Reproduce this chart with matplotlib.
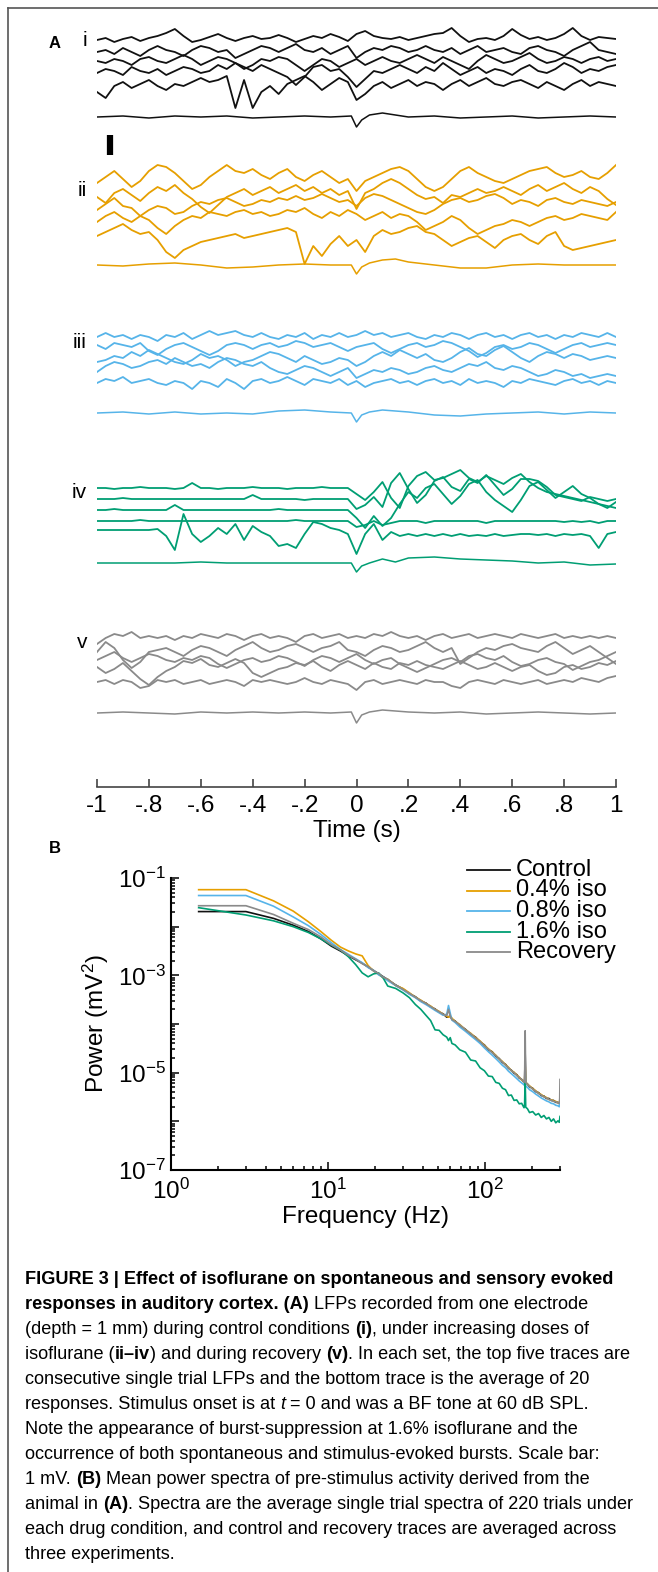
import numpy as np
import matplotlib
matplotlib.use('Agg')
import matplotlib.pyplot as plt
from matplotlib.lines import Line2D
from matplotlib.ticker import LogLocator, FixedLocator, FuncFormatter, NullFormatter

plt.rcParams['font.family'] = ['Liberation Sans', 'DejaVu Sans']
plt.rcParams['mathtext.fontset'] = 'custom'
plt.rcParams['mathtext.rm'] = 'Liberation Sans'
plt.rcParams['mathtext.it'] = 'Liberation Sans:italic'
plt.rcParams['mathtext.bf'] = 'Liberation Sans:bold'

# ---------------- data: panel A (LFP traces, mV) ----------------
# single trials sampled every 1/30 s from -1 to 1 s
t_trial = np.linspace(-1, 1, 61)
# trial averages, denser around stimulus onset
t_avg = [-1.0, -0.9, -0.8, -0.7, -0.6, -0.5, -0.4, -0.3, -0.2, -0.1, -0.02, 0.0,
         0.02, 0.05, 0.1, 0.15, 0.2, 0.3, 0.4, 0.5, 0.6, 0.7, 0.8, 0.9, 1.0]

# i - control
ctl_1 = [0.0, 0.1, -0.1, 0.05, 0.15, -0.05, 0.1, 0.2, 0.35, 0.55,
         0.2, -0.1, 0.0, 0.15, 0.3, 0.1, -0.05, 0.1, 0.2, 0.05,
         0.1, 0.25, 0.1, -0.1, 0.05, 0.2, 0.1, 0.3, 0.15, -0.05,
         0.3, 0.45, 0.2, 0.1, 0.05, 0.15, 0.0, 0.1, 0.2, 0.3,
         0.35, 0.6, 0.2, -0.1, 0.05, 0.1, 0.0, 0.2, 0.55, 0.25,
         0.05, 0.15, 0.0, 0.1, 0.3, 0.6, 0.2, 0.0, 0.15, 0.1, 0.05]
ctl_2 = [0.0, 0.1, -0.1, 0.2, 0.0, -0.2, 0.1, 0.3, 0.1, 0.0,
         -0.2, 0.1, 0.3, 0.2, 0.0, 0.1, -0.3, -0.1, 0.1, 0.3,
         0.2, 0.0, 0.2, 0.4, 0.1, 0.0, 0.2, -0.1, 0.1, 0.3,
         -0.3, 0.0, 0.2, 0.1, 0.3, 0.2, 0.0, 0.1, 0.3, 0.1,
         0.0, 0.2, -0.1, 0.1, 0.3, 0.0, 0.1, 0.2, 0.0, -0.1,
         0.2, 0.3, 0.1, 0.0, -0.2, 0.1, 0.3, 0.5, 0.1, 0.0, -0.1]
ctl_3 = [0.0, -0.1, 0.1, 0.0, -0.2, 0.1, 0.2, 0.0, -0.1, 0.1,
         0.3, 0.1, -0.2, 0.0, 0.2, 0.1, -0.1, -0.4, -0.2, 0.1,
         0.0, 0.2, 0.1, -0.2, -0.5, -0.2, 0.1, 0.0, -0.3, -0.1,
         0.1, -0.2, 0.0, 0.2, 0.0, -0.1, 0.1, 0.3, 0.1, -0.1,
         0.2, 0.0, -0.2, -0.4, 0.0, 0.3, 0.1, -0.1, 0.0, 0.2,
         0.4, 0.1, -0.1, 0.0, 0.2, 0.1, -0.1, 0.1, 0.2, 0.0, 0.1]
ctl_4 = [0.0, 0.2, 0.1, -0.1, 0.3, 0.1, 0.0, 0.2, -0.1, 0.1,
         0.3, 0.2, 0.0, 0.1, 0.4, 0.2, 0.5, 0.3, 0.1, 0.4,
         0.2, 0.0, -0.2, -0.6, -0.2, 0.3, 0.4, 0.1, 0.2, -0.2,
         -0.7, -0.3, 0.1, 0.0, 0.2, 0.4, 0.2, 0.0, 0.3, 0.1,
         0.5, 0.2, -0.1, 0.1, 0.3, 0.0, 0.2, 0.1, -0.1, 0.2,
         0.4, 0.1, 0.0, 0.2, 0.5, 0.3, 0.0, 0.2, 0.1, 0.3, 0.4]
ctl_5 = [-0.3, -0.6, 0.0, 0.2, -0.1, 0.1, 0.3, 0.0, -0.2, 0.1,
         0.0, 0.2, 0.4, 0.2, 0.3, 0.5, -1.1, 0.3, -1.1, -0.3,
         0.0, -0.4, 0.1, 0.3, 0.5, 0.2, -0.2, 0.1, 0.4, 0.2,
         -0.7, -0.4, 0.0, 0.2, -0.1, 0.1, 0.3, 0.0, 0.2, 0.1,
         -0.2, 0.1, 0.3, 0.0, 0.2, 0.4, 0.1, 0.0, 0.2, 0.3,
         0.1, -0.1, 0.2, 0.0, -0.2, 0.1, 0.3, 0.0, 0.2, 0.1, 0.0]
ctl_avg = [0.0, 0.05, -0.05, 0.05, 0.0, 0.05, -0.05, 0.0, 0.05, 0.0, 0.05, -0.5,
           -0.15, 0.1, 0.2, 0.1, 0.0, 0.05, -0.05, 0.0, 0.05, -0.05, 0.0, 0.05, 0.0]

# ii - 0.4% isoflurane
iso04_1 = [0.0, 0.3, 0.6, 0.2, -0.2, 0.1, 0.6, 0.9, 0.8, 0.5,
           0.1, -0.3, -0.1, 0.3, 0.6, 0.9, 0.6, 0.5, 0.7, 0.4,
           0.2, 0.5, 0.7, 0.3, 0.1, 0.4, 0.6, 0.3, 0.0, 0.2,
           -0.4, 0.1, 0.3, 0.5, 0.7, 0.8, 0.6, 0.2, -0.2, -0.4,
           -0.2, 0.2, 0.6, 0.8, 0.5, 0.3, 0.1, 0.0, 0.2, 0.4,
           0.6, 0.7, 0.8, 0.5, 0.3, 0.4, 0.6, 0.3, 0.2, 0.5, 0.9]
iso04_2 = [0.0, -0.3, 0.2, 0.4, 0.1, -0.2, 0.2, 0.5, 0.3, 0.6,
           0.2, -0.1, -0.5, -0.8, -0.4, 0.0, 0.2, 0.4, 0.1, 0.3,
           0.5, 0.2, 0.4, 0.6, 0.3, 0.5, 0.2, 0.4, 0.1, 0.3,
           -0.6, 0.2, 0.4, 0.7, 0.9, 0.7, 0.4, 0.1, -0.1, 0.0,
           -0.3, 0.1, 0.0, 0.2, 0.4, 0.2, 0.3, 0.5, 0.3, 0.1,
           0.4, 0.6, 0.3, 0.5, 0.7, 0.4, 0.2, 0.5, 0.3, -0.1, -0.4]
iso04_3 = [0.0, 0.3, 0.6, 0.2, 0.1, -0.3, 0.0, 0.2, 0.1, -0.2,
           -0.1, 0.2, 0.4, 0.3, 0.5, 0.6, 0.4, 0.2, 0.3, 0.5,
           0.4, 0.6, 0.5, 0.7, 0.5, 0.6, 0.8, 0.6, 0.4, 0.5,
           0.2, 0.6, 0.8, 0.7, 0.5, 0.3, 0.1, -0.1, -0.2, 0.0,
           0.3, 0.5, 0.6, 0.4, 0.5, 0.7, 0.8, 0.6, 0.3, 0.5,
           0.4, 0.2, 0.5, 0.6, 0.4, 0.3, 0.5, 0.4, 0.3, 0.2, 0.4]
iso04_4 = [0.0, 0.3, 0.5, 0.2, 0.0, 0.3, 0.1, -0.3, -0.6, -0.2,
           0.1, 0.3, 0.2, 0.5, 0.4, 0.3, 0.5, 0.6, 0.4, 0.5,
           0.3, 0.4, 0.6, 0.5, 0.7, 0.4, 0.2, 0.5, 0.3, 0.6,
           0.4, 0.1, 0.3, 0.5, 0.2, 0.4, 0.3, 0.0, -0.4, -0.2,
           0.0, 0.3, 0.1, -0.3, -0.6, -0.4, -0.2, -0.1, 0.1, 0.0,
           -0.2, 0.0, 0.2, 0.3, 0.1, 0.2, 0.4, 0.3, 0.2, 0.1, 0.5]
iso04_5 = [0.0, 0.2, 0.4, 0.6, 0.3, 0.1, 0.2, -0.2, -0.8, -1.1,
           -0.7, -0.5, -0.3, -0.2, -0.1, 0.0, 0.1, -0.1, 0.0, 0.1,
           0.2, 0.3, 0.4, 0.2, -1.4, -0.5, -1.0, -0.4, 0.0, -0.5,
           -0.2, -0.8, 0.0, 0.3, 0.1, 0.2, 0.4, 0.5, 0.2, 0.1,
           -0.2, -0.5, -0.3, -0.1, 0.0, -0.3, -0.6, -0.2, 0.0, 0.1,
           -0.2, -0.4, 0.0, 0.2, -0.5, -0.7, -0.6, -0.5, -0.4, -0.3, -0.2]
iso04_avg = [0.0, -0.05, 0.05, 0.1, 0.0, -0.15, -0.1, 0.0, 0.05, 0.0, 0.0, -0.45,
             -0.1, 0.1, 0.25, 0.3, 0.15, 0.0, -0.15, -0.15, 0.0, 0.05, 0.0, 0.0, 0.0]

# iii - 0.8% isoflurane
iso08_1 = [0.0, 0.2, 0.0, 0.1, -0.1, 0.1, 0.0, -0.2, 0.1, 0.0,
           0.2, -0.1, 0.1, 0.3, 0.1, 0.2, 0.3, 0.1, 0.0, 0.2,
           0.0, -0.1, 0.1, 0.0, 0.2, -0.1, 0.1, 0.0, 0.2, 0.0,
           0.1, 0.3, 0.1, 0.2, 0.0, 0.1, 0.2, 0.0, -0.1, 0.1,
           0.0, 0.2, 0.1, -0.1, 0.1, 0.2, 0.0, 0.1, -0.1, 0.1,
           0.2, 0.0, 0.1, -0.1, 0.1, 0.0, 0.2, 0.1, 0.0, 0.2, 0.0]
iso08_2 = [0.0, -0.2, 0.1, 0.0, -0.1, 0.1, -0.3, -0.5, -0.2, 0.0,
           0.1, -0.1, -0.3, -0.5, -0.3, 0.0, 0.1, 0.0, -0.2, 0.0,
           0.1, -0.1, 0.0, 0.2, 0.1, -0.1, 0.0, 0.1, -0.1, -0.3,
           -0.1, 0.0, 0.1, -0.2, -0.4, -0.2, 0.0, 0.1, -0.1, 0.0,
           0.2, 0.1, -0.1, -0.3, -0.6, -0.4, -0.1, 0.0, -0.2, -0.1,
           0.1, 0.0, -0.2, -0.4, -0.2, 0.0, 0.1, -0.1, 0.0, 0.1, 0.0]
iso08_3 = [0.0, 0.1, 0.3, 0.2, 0.5, 0.3, 0.6, 0.4, 0.2, 0.0,
           -0.1, 0.1, 0.4, 0.2, 0.3, 0.1, -0.2, 0.0, 0.1, 0.3,
           0.5, 0.4, 0.2, 0.0, 0.3, 0.1, -0.1, 0.0, 0.2, 0.1,
           -0.2, 0.0, 0.3, 0.5, 0.3, 0.6, 0.4, 0.2, 0.4, 0.1,
           0.0, 0.2, 0.5, 0.7, 0.4, 0.3, 0.6, 0.8, 0.5, 0.2,
           0.0, 0.3, 0.5, 0.4, 0.2, 0.4, 0.3, 0.1, 0.2, 0.3, 0.2]
iso08_4 = [0.0, 0.3, 0.5, 0.4, 0.2, 0.3, 0.5, 0.6, 0.4, 0.7,
           0.5, 0.3, 0.4, 0.2, 0.5, 0.7, 0.6, 0.4, 0.3, 0.5,
           0.2, 0.0, -0.1, 0.1, 0.3, 0.2, 0.0, -0.2, 0.0, 0.2,
           -0.3, -0.1, 0.1, 0.0, 0.2, 0.1, -0.1, 0.0, 0.2, 0.3,
           0.1, 0.0, 0.2, 0.4, 0.3, 0.5, 0.2, 0.1, 0.3, 0.2,
           0.0, -0.2, -0.1, 0.1, 0.0, -0.2, -0.1, -0.3, -0.2, -0.1, -0.2]
iso08_5 = [0.0, 0.2, 0.1, 0.3, 0.0, 0.1, 0.2, 0.0, -0.1, 0.1,
           0.0, -0.3, 0.1, 0.0, -0.2, 0.2, 0.0, -0.3, 0.1, 0.2,
           0.0, 0.1, 0.3, 0.1, -0.1, 0.2, 0.1, 0.0, 0.2, -0.1,
           0.1, -0.2, 0.0, 0.1, 0.2, 0.0, 0.1, -0.1, 0.1, 0.2,
           0.0, 0.1, -0.1, 0.2, 0.0, 0.1, 0.0, -0.2, 0.1, 0.0,
           0.2, 0.1, 0.0, -0.1, 0.1, 0.2, 0.0, 0.1, -0.1, 0.1, 0.0]
iso08_avg = [0.0, 0.05, -0.05, 0.05, -0.05, 0.0, -0.05, 0.1, 0.15, 0.05, 0.0, -0.45,
             -0.1, 0.05, 0.15, 0.1, 0.05, -0.1, -0.15, -0.05, 0.0, 0.05, -0.05, 0.05, 0.0]

# iv - 1.6% isoflurane (burst-suppression)
iso16_1 = [0.0, 0.0, -0.05, 0.0, 0.0, 0.05, 0.0, 0.0, 0.0, -0.05,
           0.0, 0.25, 0.0, 0.0, -0.05, 0.0, 0.0, 0.0, 0.05, 0.0,
           0.0, 0.0, -0.05, 0.0, 0.0, 0.0, 0.05, 0.0, 0.0, 0.0,
           -0.3, -0.6, -0.2, 0.3, -0.5, -1.0, 0.1, 0.6, 0.8, 0.4,
           0.5, 0.7, 0.9, 0.5, 0.3, 0.6, 0.4, 0.2, 0.5, 0.7,
           0.3, 0.0, -0.2, -0.3, -0.4, -0.5, -0.6, -0.7, -0.8, -0.9, -1.0]
iso16_2 = [0.0, 0.0, 0.0, 0.05, 0.0, 0.0, 0.0, 0.0, 0.0, 0.0,
           0.0, 0.0, 0.0, 0.0, 0.0, 0.0, 0.0, 0.0, 0.2, 0.0,
           0.0, 0.0, 0.0, 0.0, -0.05, 0.0, 0.0, 0.0, 0.0, 0.0,
           -0.5, -0.3, 0.1, -0.4, 0.8, 1.3, 0.5, -0.2, 0.2, 0.9,
           1.1, 0.6, 0.4, 1.0, 0.8, 1.2, 0.7, 0.2, 0.5, 1.0,
           1.0, 0.9, 0.6, 0.2, 0.1, 0.0, -0.1, 0.1, 0.0, -0.1, 0.0]
iso16_3 = [0.0, 0.0, 0.05, 0.0, 0.0, 0.0, 0.0, 0.0, 0.0, 0.25,
           0.0, 0.0, 0.0, 0.0, 0.0, 0.0, 0.0, 0.0, 0.0, 0.0,
           0.0, 0.05, 0.0, 0.0, 0.0, 0.0, 0.0, 0.0, 0.0, 0.0,
           -0.4, -0.9, -0.3, -0.8, -0.4, 0.3, 0.9, 0.6, 1.1, 1.3,
           0.8, 0.3, 0.7, 1.3, 1.5, 0.9, 0.5, 0.2, -0.1, 0.5,
           1.2, 1.4, 1.0, 0.6, 0.9, 1.2, 0.8, 0.6, 0.3, 0.1, 0.4]
iso16_4 = [0.0, 0.0, 0.0, 0.0, 0.0, 0.05, 0.0, 0.0, 0.0, 0.0,
           0.0, 0.0, 0.0, 0.0, 0.0, 0.0, 0.0, 0.0, 0.0, 0.0,
           0.0, 0.0, 0.0, 0.05, 0.0, 0.0, 0.0, 0.0, 0.0, 0.0,
           -0.3, -0.2, 0.0, -0.2, -0.1, 0.0, 0.0, 0.0, -0.1, 0.0,
           0.0, 0.0, 0.0, 0.0, 0.0, -0.1, 0.0, 0.0, 0.0, 0.0,
           0.0, 0.0, 0.0, 0.0, -0.05, 0.0, -0.05, 0.0, -0.1, 0.0, 0.0]
iso16_5 = [0.0, 0.0, 0.0, 0.0, 0.0, 0.0, 0.0, 0.05, -0.3, -1.0,
           0.8, -0.2, -0.6, -0.3, 0.1, -0.2, 0.3, -0.5, 0.2, -0.1,
           -0.3, -0.8, -0.7, -0.9, -0.2, 0.4, 0.3, 0.1, 0.0, -0.2,
           -1.2, -0.2, 0.3, -0.5, -0.1, -0.3, -0.2, -0.3, -0.2, -0.3,
           -0.2, -0.3, -0.2, -0.3, -0.25, -0.3, -0.2, -0.3, -0.25, -0.2,
           -0.2, -0.25, -0.2, -0.3, -0.2, -0.25, -0.2, -0.3, -0.9, -0.2, -0.1]
iso16_avg = [0.0, 0.0, 0.0, 0.0, 0.05, 0.0, 0.0, 0.0, 0.0, 0.0, 0.0, -0.45,
             -0.15, 0.0, 0.2, 0.05, 0.25, 0.3, 0.2, 0.15, 0.1, 0.0, 0.05, -0.1, -0.05]

# v - recovery
rec_1 = [-0.3, 0.0, 0.2, 0.1, 0.3, 0.0, 0.1, 0.0, 0.1, -0.1,
         0.1, 0.0, 0.2, 0.1, 0.0, 0.2, 0.1, -0.1, 0.1, 0.2,
         0.0, 0.1, 0.0, -0.2, 0.1, 0.2, 0.0, 0.1, 0.2, 0.0,
         0.1, 0.0, 0.2, 0.1, 0.3, 0.1, 0.0, 0.1, -0.1, 0.1,
         0.2, 0.0, 0.1, 0.2, 0.0, 0.1, 0.2, 0.1, 0.0, 0.2,
         0.1, 0.0, 0.1, 0.2, 0.0, 0.1, 0.0, 0.1, 0.0, 0.1, 0.0]
rec_2 = [0.0, 0.5, 0.2, -0.4, -0.8, -0.5, 0.0, 0.1, 0.2, 0.0,
         -0.2, 0.1, 0.3, 0.2, 0.0, -0.2, 0.1, 0.3, 0.5, 0.2,
         0.0, 0.1, 0.3, 0.4, 0.2, 0.0, 0.2, 0.3, 0.5, 0.1,
         0.0, -0.2, 0.1, 0.3, 0.2, 0.0, 0.1, 0.3, 0.5, 0.2,
         0.0, 0.2, -0.6, -0.3, 0.0, 0.2, 0.1, 0.3, 0.4, 0.2,
         0.1, 0.0, 0.3, 0.5, 0.2, -0.1, 0.1, 0.3, 0.0, -0.3, -0.6]
rec_3 = [0.0, 0.2, 0.4, 0.1, -0.1, 0.1, 0.3, 0.2, 0.0, -0.1,
         0.1, 0.0, 0.2, 0.1, -0.2, -0.4, -0.2, 0.0, 0.1, -0.1,
         0.0, 0.2, 0.1, -0.1, -0.3, 0.0, 0.2, 0.1, -0.1, 0.1,
         0.3, 0.0, -0.2, 0.0, 0.1, -0.2, -0.4, -0.6, -0.4, -0.2,
         0.0, 0.1, -0.1, 0.2, 0.3, 0.1, 0.0, 0.2, -0.1, -0.3,
         -0.2, 0.0, 0.1, -0.1, -0.2, -0.5, -0.3, -0.1, 0.0, 0.2, 0.4]
rec_4 = [0.0, -0.3, -0.1, 0.2, -0.2, -0.6, -0.9, -0.5, -0.2, 0.0,
         0.3, 0.2, 0.4, 0.1, 0.0, 0.2, 0.4, 0.2, -0.3, -0.5,
         -0.3, -0.1, 0.0, 0.2, 0.1, 0.3, 0.0, -0.2, 0.1, 0.3,
         0.1, -0.1, 0.2, 0.0, -0.1, 0.2, 0.1, 0.3, 0.1, 0.0,
         -0.1, 0.1, 0.3, 0.1, -0.1, 0.0, 0.2, 0.0, -0.2, 0.0,
         0.1, -0.2, -0.4, -0.3, 0.0, 0.1, -0.1, 0.0, 0.2, 0.1, 0.3]
rec_5 = [0.0, 0.1, -0.1, 0.1, 0.0, -0.3, -0.2, 0.1, 0.0, 0.1,
         -0.1, 0.0, 0.1, -0.1, 0.0, 0.1, 0.0, -0.2, 0.1, 0.0,
         0.1, 0.0, -0.1, 0.0, 0.2, 0.0, -0.1, 0.1, 0.0, -0.1,
         -0.4, 0.0, 0.1, -0.1, 0.0, 0.1, 0.0, -0.1, 0.1, 0.0,
         0.0, -0.2, -0.3, 0.0, 0.1, 0.0, -0.1, 0.1, 0.0, -0.1,
         0.0, 0.1, -0.1, 0.0, 0.1, 0.0, 0.2, 0.1, 0.0, 0.2, 0.3]
rec_avg = [0.0, 0.05, 0.0, -0.05, 0.05, 0.0, 0.05, 0.0, 0.05, 0.0, 0.05, -0.5,
           -0.1, 0.05, 0.15, 0.1, 0.05, 0.0, 0.05, -0.05, 0.0, 0.05, 0.0, -0.05, 0.0]

time_ticks = [-1, -0.8, -0.6, -0.4, -0.2, 0, 0.2, 0.4, 0.6, 0.8, 1]
time_labels = ['-1', '-.8', '-.6', '-.4', '-.2', '0', '.2', '.4', '.6', '.8', '1']

# ---------------- data: panel B (power spectra, log10 mV^2) ----------------
freq = [1.5, 3, 4.5, 6, 7.5, 9, 10.5, 12, 13.5, 15,
        16.5, 18, 19.5, 21, 22.5, 24, 27, 30, 33, 36,
        39, 42, 45, 48, 51, 54, 57, 58.5, 60, 61.5,
        64.5, 69, 75, 81, 87, 93, 99, 105, 111, 117,
        123, 129, 135, 141, 147, 153, 159, 165, 171, 177,
        178.5, 180, 181.5, 186, 192, 201, 210, 219, 228, 237,
        246, 255, 264, 273, 282, 291, 297, 298.5, 300]
logp_control = [-1.69, -1.69, -1.83, -1.97, -2.10, -2.25, -2.40, -2.50, -2.60, -2.68,
                -2.75, -2.83, -2.90, -2.97, -3.03, -3.09, -3.20, -3.28, -3.38, -3.44,
                -3.53, -3.57, -3.65, -3.69, -3.76, -3.79, -3.86, -3.85, -3.84, -3.90,
                -3.94, -4.03, -4.11, -4.21, -4.27, -4.37, -4.43, -4.53, -4.57, -4.66,
                -4.71, -4.79, -4.83, -4.91, -4.95, -5.01, -5.04, -5.11, -5.14, -5.19,
                -5.18, -4.60, -5.21, -5.23, -5.29, -5.32, -5.39, -5.41, -5.47, -5.48,
                -5.53, -5.53, -5.57, -5.57, -5.61, -5.61, -5.64, -5.62, -5.45]
logp_iso04 = [-1.24, -1.24, -1.47, -1.68, -1.90, -2.10, -2.28, -2.42, -2.50, -2.56,
              -2.60, -2.80, -2.91, -2.98, -3.05, -3.08, -3.21, -3.27, -3.36, -3.45,
              -3.51, -3.58, -3.63, -3.70, -3.74, -3.80, -3.84, -3.86, -3.83, -3.88,
              -3.95, -4.01, -4.12, -4.19, -4.28, -4.35, -4.44, -4.51, -4.58, -4.64,
              -4.72, -4.77, -4.84, -4.89, -4.96, -4.99, -5.05, -5.09, -5.15, -5.17,
              -5.20, -4.85, -5.19, -5.24, -5.27, -5.33, -5.37, -5.42, -5.45, -5.49,
              -5.51, -5.55, -5.56, -5.58, -5.59, -5.62, -5.61, -5.63, -5.55]
logp_iso08 = [-1.36, -1.36, -1.58, -1.80, -1.98, -2.16, -2.33, -2.47, -2.57, -2.66,
              -2.74, -2.84, -2.90, -2.99, -3.04, -3.11, -3.21, -3.30, -3.39, -3.46,
              -3.54, -3.60, -3.66, -3.72, -3.77, -3.82, -3.80, -3.62, -3.78, -3.92,
              -3.97, -4.06, -4.15, -4.24, -4.32, -4.40, -4.49, -4.57, -4.64, -4.71,
              -4.78, -4.85, -4.90, -4.97, -5.02, -5.07, -5.12, -5.17, -5.21, -5.25,
              -5.26, -4.95, -5.28, -5.30, -5.35, -5.39, -5.44, -5.48, -5.52, -5.55,
              -5.58, -5.60, -5.63, -5.64, -5.67, -5.68, -5.70, -5.69, -5.60]
logp_iso16 = [-1.61, -1.76, -1.88, -2.00, -2.12, -2.25, -2.38, -2.48, -2.62, -2.78,
              -2.95, -3.03, -2.97, -2.95, -3.06, -3.22, -3.27, -3.36, -3.46, -3.60,
              -3.70, -3.82, -3.93, -4.12, -4.13, -4.22, -4.27, -4.34, -4.28, -4.40,
              -4.43, -4.53, -4.58, -4.74, -4.76, -4.90, -4.96, -5.07, -5.08, -5.20,
              -5.22, -5.32, -5.35, -5.47, -5.46, -5.57, -5.56, -5.64, -5.63, -5.72,
              -5.66, -5.15, -5.71, -5.74, -5.82, -5.80, -5.87, -5.84, -5.92, -5.88,
              -5.95, -5.92, -6.00, -5.95, -6.03, -5.99, -6.02, -5.96, -5.90]
logp_recovery = [-1.57, -1.57, -1.75, -1.93, -2.06, -2.21, -2.37, -2.48, -2.59, -2.67,
                 -2.76, -2.82, -2.91, -2.96, -3.04, -3.08, -3.21, -3.29, -3.37, -3.45,
                 -3.52, -3.58, -3.64, -3.70, -3.75, -3.80, -3.83, -3.70, -3.84, -3.91,
                 -3.95, -4.02, -4.12, -4.20, -4.29, -4.36, -4.45, -4.52, -4.59, -4.65,
                 -4.72, -4.78, -4.85, -4.90, -4.96, -5.00, -5.06, -5.10, -5.14, -5.18,
                 -5.19, -4.14, -5.20, -5.24, -5.28, -5.34, -5.38, -5.43, -5.46, -5.50,
                 -5.52, -5.55, -5.57, -5.59, -5.60, -5.62, -5.63, -5.62, -5.14]
spec_labels = ['Control', '0.4% iso', '0.8% iso', '1.6% iso', 'Recovery']

# ---------------- styles / layout (pixels of the 658x1572 figure) ----------------
W, H = 658, 1572
C_CTL, C_04, C_08, C_16, C_REC = '#111111', '#E69F00', '#56B4E9', '#009E73', '#8a8a8a'
A_TOP, A_BOT, A_LEFT, A_RIGHT = 20, 787, 97, 616
PX_PER_MV = 20.0

def fx(px):
    return px / W

def fy(py):
    return 1 - py / H

def mv(py):
    # pixel row -> mV on panel A's y axis
    return (A_BOT - py) / PX_PER_MV

fig = plt.figure(figsize=(W / 100, H / 100), dpi=100)
fig.add_artist(Line2D([fx(8), 1], [fy(8), fy(8)], color='#555555', lw=1.2))
fig.add_artist(Line2D([fx(8), fx(8)], [fy(8), 0], color='#555555', lw=1.2))

# ---------------- panel A ----------------
axA = fig.add_axes([fx(A_LEFT), fy(A_BOT), (A_RIGHT - A_LEFT) / W, (A_BOT - A_TOP) / H])
axA.set_xlim(-1, 1)
axA.set_ylim(0, mv(A_TOP))

groups = [
    ('i', [ctl_1, ctl_2, ctl_3, ctl_4, ctl_5], ctl_avg, [40, 52, 61, 73, 86], 117, C_CTL, 40),
    ('ii', [iso04_1, iso04_2, iso04_3, iso04_4, iso04_5], iso04_avg, [183, 197, 210, 222, 236], 265, C_04, 190),
    ('iii', [iso08_1, iso08_2, iso08_3, iso08_4, iso08_5], iso08_avg, [337, 345, 362, 372, 383], 413, C_08, 343),
    ('iv', [iso16_1, iso16_2, iso16_3, iso16_4, iso16_5], iso16_avg, [488, 499, 510, 521, 530], 563, C_16, 493),
    ('v', [rec_1, rec_2, rec_3, rec_4, rec_5], rec_avg, [638, 652, 660, 667, 682], 713, C_REC, 643),
]
for name, trials, avg, bases, avg_base, col, label_y in groups:
    for vals, b in zip(trials, bases):
        axA.plot(t_trial, np.array(vals) + mv(b), color=col, lw=1.3)
    axA.plot(t_avg, np.array(avg) + mv(avg_base), color=col, lw=1.1)
    fig.text(fx(87), fy(label_y), name, ha='right', va='center', fontsize=15)

# 1 mV scale bar
axA.plot([-0.95, -0.95], [mv(155), mv(155) + 1.0], color='black', lw=4.5, solid_capstyle='butt')

for s in ['top', 'left', 'right']:
    axA.spines[s].set_visible(False)
axA.spines['bottom'].set_color('#444444')
axA.spines['bottom'].set_linewidth(1.2)
axA.set_yticks([])
axA.set_xticks(time_ticks)
axA.set_xticklabels(time_labels)
axA.tick_params(axis='x', direction='in', length=6, width=1.2, color='#444444', pad=6, labelsize=17.5)
axA.set_xlabel('Time (s)', fontsize=17.5, labelpad=2)

fig.text(fx(55), fy(43), 'A', fontsize=12, weight='bold', ha='center', va='center')
fig.text(fx(55), fy(848), 'B', fontsize=12, weight='bold', ha='center', va='center')

# ---------------- panel B ----------------
B_TOP, B_BOT, B_LEFT, B_RIGHT = 878, 1170, 171, 560
axB = fig.add_axes([fx(B_LEFT), fy(B_BOT), (B_RIGHT - B_LEFT) / W, (B_BOT - B_TOP) / H])
spectra = [logp_control, logp_iso04, logp_iso08, logp_iso16, logp_recovery]
spec_colors = [C_CTL, C_04, C_08, C_16, C_REC]
for vals, col in zip(spectra, spec_colors):
    axB.plot(freq, 10 ** np.array(vals), color=col, lw=1.2)
axB.set_xscale('log')
axB.set_yscale('log')
axB.set_xlim(1, 300)
axB.set_ylim(1e-7, 1e-1)

axB.xaxis.set_major_locator(FixedLocator([1, 10, 100]))
axB.xaxis.set_minor_locator(LogLocator(base=10, subs=np.arange(2, 10), numticks=20))
axB.yaxis.set_major_locator(FixedLocator([10.0 ** e for e in range(-7, 0)]))
axB.yaxis.set_minor_locator(LogLocator(base=10, subs=np.arange(2, 10), numticks=20))
axB.xaxis.set_minor_formatter(NullFormatter())
axB.yaxis.set_minor_formatter(NullFormatter())

def pow_label(v, pos):
    e = int(round(np.log10(v)))
    if e % 2 == 0 and e < 0:
        return ''
    return r'$10^{%d}$' % e

axB.xaxis.set_major_formatter(FuncFormatter(pow_label))
axB.yaxis.set_major_formatter(FuncFormatter(pow_label))
axB.tick_params(which='both', direction='in', width=1.1, labelsize=17.5)
axB.tick_params(which='major', length=6)
axB.tick_params(which='minor', length=3)
axB.tick_params(axis='x', pad=6)
axB.tick_params(axis='y', pad=4)
for s in ['top', 'right']:
    axB.spines[s].set_visible(False)
for s in ['left', 'bottom']:
    axB.spines[s].set_linewidth(1.5)
axB.set_xlabel('Frequency (Hz)', fontsize=17.5, labelpad=2)
axB.set_ylabel('Power (mV$^2$)', fontsize=17.5)
axB.yaxis.set_label_coords((111 - B_LEFT) / (B_RIGHT - B_LEFT), 0.5)

# legend
for i, (lab, col) in enumerate(zip(spec_labels, spec_colors)):
    yy = 870 + 20.5 * i
    fig.add_artist(Line2D([fx(467), fx(510)], [fy(yy), fy(yy)], color=col, lw=1.3))
    fig.text(fx(516), fy(yy), lab, fontsize=17, ha='left', va='center')

# ---------------- caption ----------------
caption = [
    [('FIGURE 3 | Effect of isoflurane on spontaneous and sensory evoked', 'b')],
    [('responses in auditory cortex. (A)', 'b'), (' LFPs recorded from one electrode', 'r')],
    [('(depth = 1 mm) during control conditions ', 'r'), ('(i)', 'b'), (', under increasing doses of', 'r')],
    [('isoflurane (', 'r'), ('ii\u2013iv', 'b'), (') and during recovery ', 'r'), ('(v)', 'b'),
     ('. In each set, the top five traces are', 'r')],
    [('consecutive single trial LFPs and the bottom trace is the average of 20', 'r')],
    [('responses. Stimulus onset is at ', 'r'), ('t', 'i'), (' = 0 and was a BF tone at 60 dB SPL.', 'r')],
    [('Note the appearance of burst-suppression at 1.6% isoflurane and the', 'r')],
    [('occurrence of both spontaneous and stimulus-evoked bursts. Scale bar:', 'r')],
    [('1 mV. ', 'r'), ('(B)', 'b'), (' Mean power spectra of pre-stimulus activity derived from the', 'r')],
    [('animal in ', 'r'), ('(A)', 'b'), ('. Spectra are the average single trial spectra of 220 trials under', 'r')],
    [('each drug condition, and control and recovery traces are averaged across', 'r')],
    [('three experiments.', 'r')],
]
CAP_SIZE = 13.1
renderer = fig.canvas.get_renderer()
STYLES = {'r': dict(weight='normal', style='normal'),
          'b': dict(weight='bold', style='normal'),
          'i': dict(weight='normal', style='italic')}

def text_width(s, kw):
    a = fig.text(0, 0, '|' + s + '|', fontsize=CAP_SIZE, **kw)
    b = fig.text(0, 0, '||', fontsize=CAP_SIZE, **kw)
    w = a.get_window_extent(renderer).width - b.get_window_extent(renderer).width
    a.remove()
    b.remove()
    return w

for k, line in enumerate(caption):
    x = 25.0
    ybase = 1278 + 25 * k + 6
    for seg, st in line:
        kw = STYLES[st]
        lead = len(seg) - len(seg.lstrip(' '))
        x0 = x + (text_width(seg[:lead], kw) if lead else 0)
        fig.text(fx(x0), fy(ybase), seg.strip(' '), fontsize=CAP_SIZE, ha='left', va='baseline', **kw)
        x += text_width(seg, kw)

fig.savefig('out.png', dpi=100)
